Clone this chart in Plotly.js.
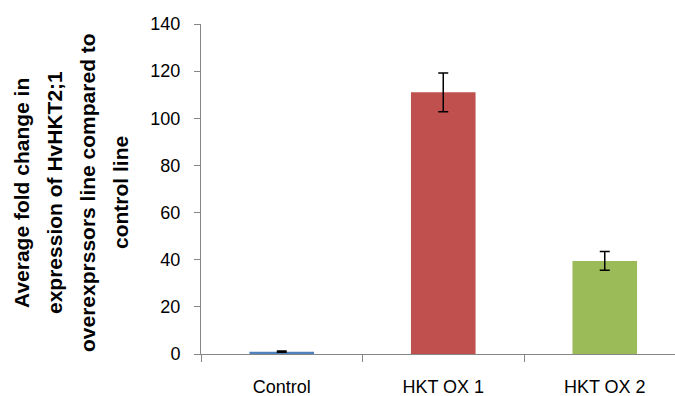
<!DOCTYPE html>
<html>
<head>
<meta charset="utf-8">
<script src="https://cdn.plot.ly/plotly-3.0.1.min.js"></script>
<style>
  html, body { margin: 0; padding: 0; background: #fff; }
  #chart { width: 675px; height: 396px; }
</style>
</head>
<body>
<div id="chart"></div>
<script>
// Fold change of HvHKT2;1 expression per line
const categories = ["Control", "HKT OX 1", "HKT OX 2"];
const foldChange = [1, 111, 39.5];
const errors = [0.3, 8.2, 4];
const barColors = ["#4F81BD", "#C0504D", "#9BBB59"];
const yTicks = [0, 20, 40, 60, 80, 100, 120, 140];
const titleLines = [
  "Average fold change in",
  "expression of HvHKT2;1",
  "overexprssors line compared to",
  "control line"
];

const axisGrey = "#868686";
const font = "Liberation Sans, Arial, sans-serif";

const marginL = 201, marginR = 0, marginT = 24, marginB = 42;
const plotW = 675 - marginL - marginR;
const plotH = 396 - marginT - marginB;

const trace = {
  type: "bar",
  x: categories,
  y: foldChange,
  marker: { color: barColors, line: { width: 0 } },
  width: 0.4,
  error_y: {
    type: "data",
    array: errors,
    visible: true,
    color: "#000000",
    thickness: 1.5,
    width: 5
  },
  hoverinfo: "x+y"
};

// Multi-line y-axis title: one rotated annotation per line, wider line spacing
const lineCenters = [21, 54, 87, 120];
const titleCenterY = 193;
const annotations = titleLines.map((t, i) => ({
  text: "<b>" + t + "</b>",
  xref: "paper", yref: "paper",
  x: (lineCenters[i] - marginL) / plotW,
  y: (marginT + plotH - titleCenterY) / plotH,
  xanchor: "center", yanchor: "middle",
  textangle: -90,
  showarrow: false,
  font: { family: font, size: 21, color: "#000000" }
}));

const layout = {
  width: 675,
  height: 396,
  margin: { l: marginL, r: marginR, t: marginT, b: marginB, pad: 0 },
  paper_bgcolor: "#ffffff",
  plot_bgcolor: "#ffffff",
  showlegend: false,
  font: { family: font, size: 18, color: "#000000" },
  xaxis: {
    type: "category",
    range: [-0.5, 2.435],
    showline: true,
    linecolor: axisGrey,
    linewidth: 1,
    ticks: "outside",
    tickson: "boundaries",
    ticklen: 7,
    tickcolor: axisGrey,
    tickwidth: 1,
    ticklabelstandoff: 16,
    showgrid: false,
    zeroline: false,
    tickfont: { family: font, size: 18, color: "#000000" }
  },
  yaxis: {
    range: [0, 140],
    tickvals: yTicks,
    ticktext: yTicks.map(String),
    showline: true,
    linecolor: axisGrey,
    linewidth: 1,
    ticks: "outside",
    ticklen: 6,
    tickcolor: axisGrey,
    tickwidth: 1,
    ticklabelstandoff: 10,
    showgrid: false,
    zeroline: false,
    tickfont: { family: font, size: 18, color: "#000000" }
  },
  annotations: annotations
};

Plotly.newPlot("chart", [trace], layout, { displayModeBar: false, staticPlot: true });
</script>
</body>
</html>
